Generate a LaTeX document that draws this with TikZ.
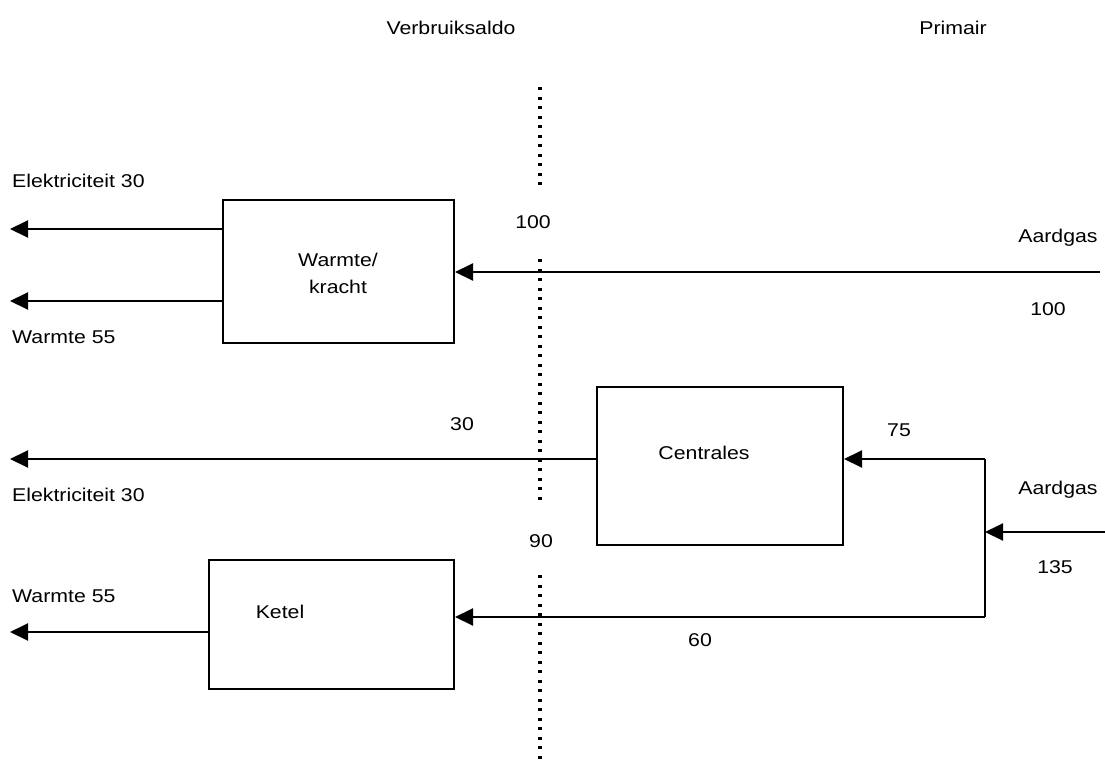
\documentclass[tikz,border=0pt]{standalone}
\usepackage{fontspec}
\setmainfont{Liberation Sans}[FakeStretch=1.15]
\usetikzlibrary{arrows.meta}

\tikzset{
	box/.style={draw, line width=2pt, inner sep=0pt},
	flow/.style={line width=2pt, -{Triangle[length=18pt, width=17pt]}},
	border/.style={line width=3.3pt, dash pattern=on 3.3pt off 6.2pt},
	lbl/.style={inner sep=0pt}
}

\begin{document}
\begin{tikzpicture}[x=1pt, y=-1pt, every node/.style={font=\fontsize{18.5}{27}\selectfont, align=center}]
		\useasboundingbox (0,0) rectangle (1105,760);

		% Headings
		\node[lbl] (hverb) at (451,28) {Verbruiksaldo};
		\node[lbl] (hprim) at (953,28) {Primair};

		% Boundary
		\draw[border] (540,87) -- (540,186);
		\draw[border] (540,259) -- (540,502);
		\draw[border] (540,575) -- (540,760);

		% Boxes
		\node[box, minimum width=231, minimum height=143] (wk) at (338.5,271.5) {};
		\node[box, minimum width=246, minimum height=158] (cen) at (720,466) {};
		\node[box, minimum width=245, minimum height=129] (ket) at (331.5,624.5) {};
		\node[lbl] (wktxt) at (338,273) {Warmte/\\kracht};
		\node[lbl] (centxt) at (704,453) {Centrales};
		\node[lbl] (kettxt) at (280,612) {Ketel};

		% Free ends
		\coordinate (e1) at (10,229);
		\coordinate (w1) at (10,301);
		\coordinate (e2) at (10,459);
		\coordinate (w2) at (10,632);
		\coordinate (g1) at (1100,272);
		\coordinate (g2) at (1105,532);
		\coordinate (split) at (985,532);
		\coordinate (jt) at (985,459);
		\coordinate (jb) at (985,617);

		% Row 1
		\draw[flow] (wk.west |- e1) -- (e1);
		\draw[flow] (wk.west |- w1) -- (w1);
		\draw[flow] (g1) -- (wk.east |- g1);
		\node[lbl, anchor=west] (le1) at (12,181) {Elektriciteit 30};
		\node[lbl, anchor=west] (lw1) at (12,337) {Warmte 55};
		\node[lbl] (l100a) at (533,222) {100};
		\node[lbl] (lg1) at (1058,238) {Aardgas};
		\node[lbl] (l100b) at (1048,309) {100};

		% Row 2
		\draw[flow] (cen.west |- e2) -- (e2);
		\draw[line width=2pt] (jt) -- (jb);
		\draw[flow] (jt) -- (cen.east |- jt);
		\draw[flow] (g2) -- (split);
		\node[lbl] (l30) at (462,424) {30};
		\node[lbl] (l75) at (899,430) {75};
		\node[lbl, anchor=west] (le2) at (12,495) {Elektriciteit 30};
		\node[lbl] (lg2) at (1058,490) {Aardgas};
		\node[lbl] (l135) at (1055,567) {135};
		\node[lbl] (l90) at (541,541) {90};

		% Row 3
		\draw[flow] (jb) -- (ket.east |- jb);
		\draw[flow] (ket.west |- w2) -- (w2);
		\node[lbl, anchor=west] (lw2) at (12,596) {Warmte 55};
		\node[lbl] (l60) at (700,640) {60};
	\end{tikzpicture}
\end{document}
